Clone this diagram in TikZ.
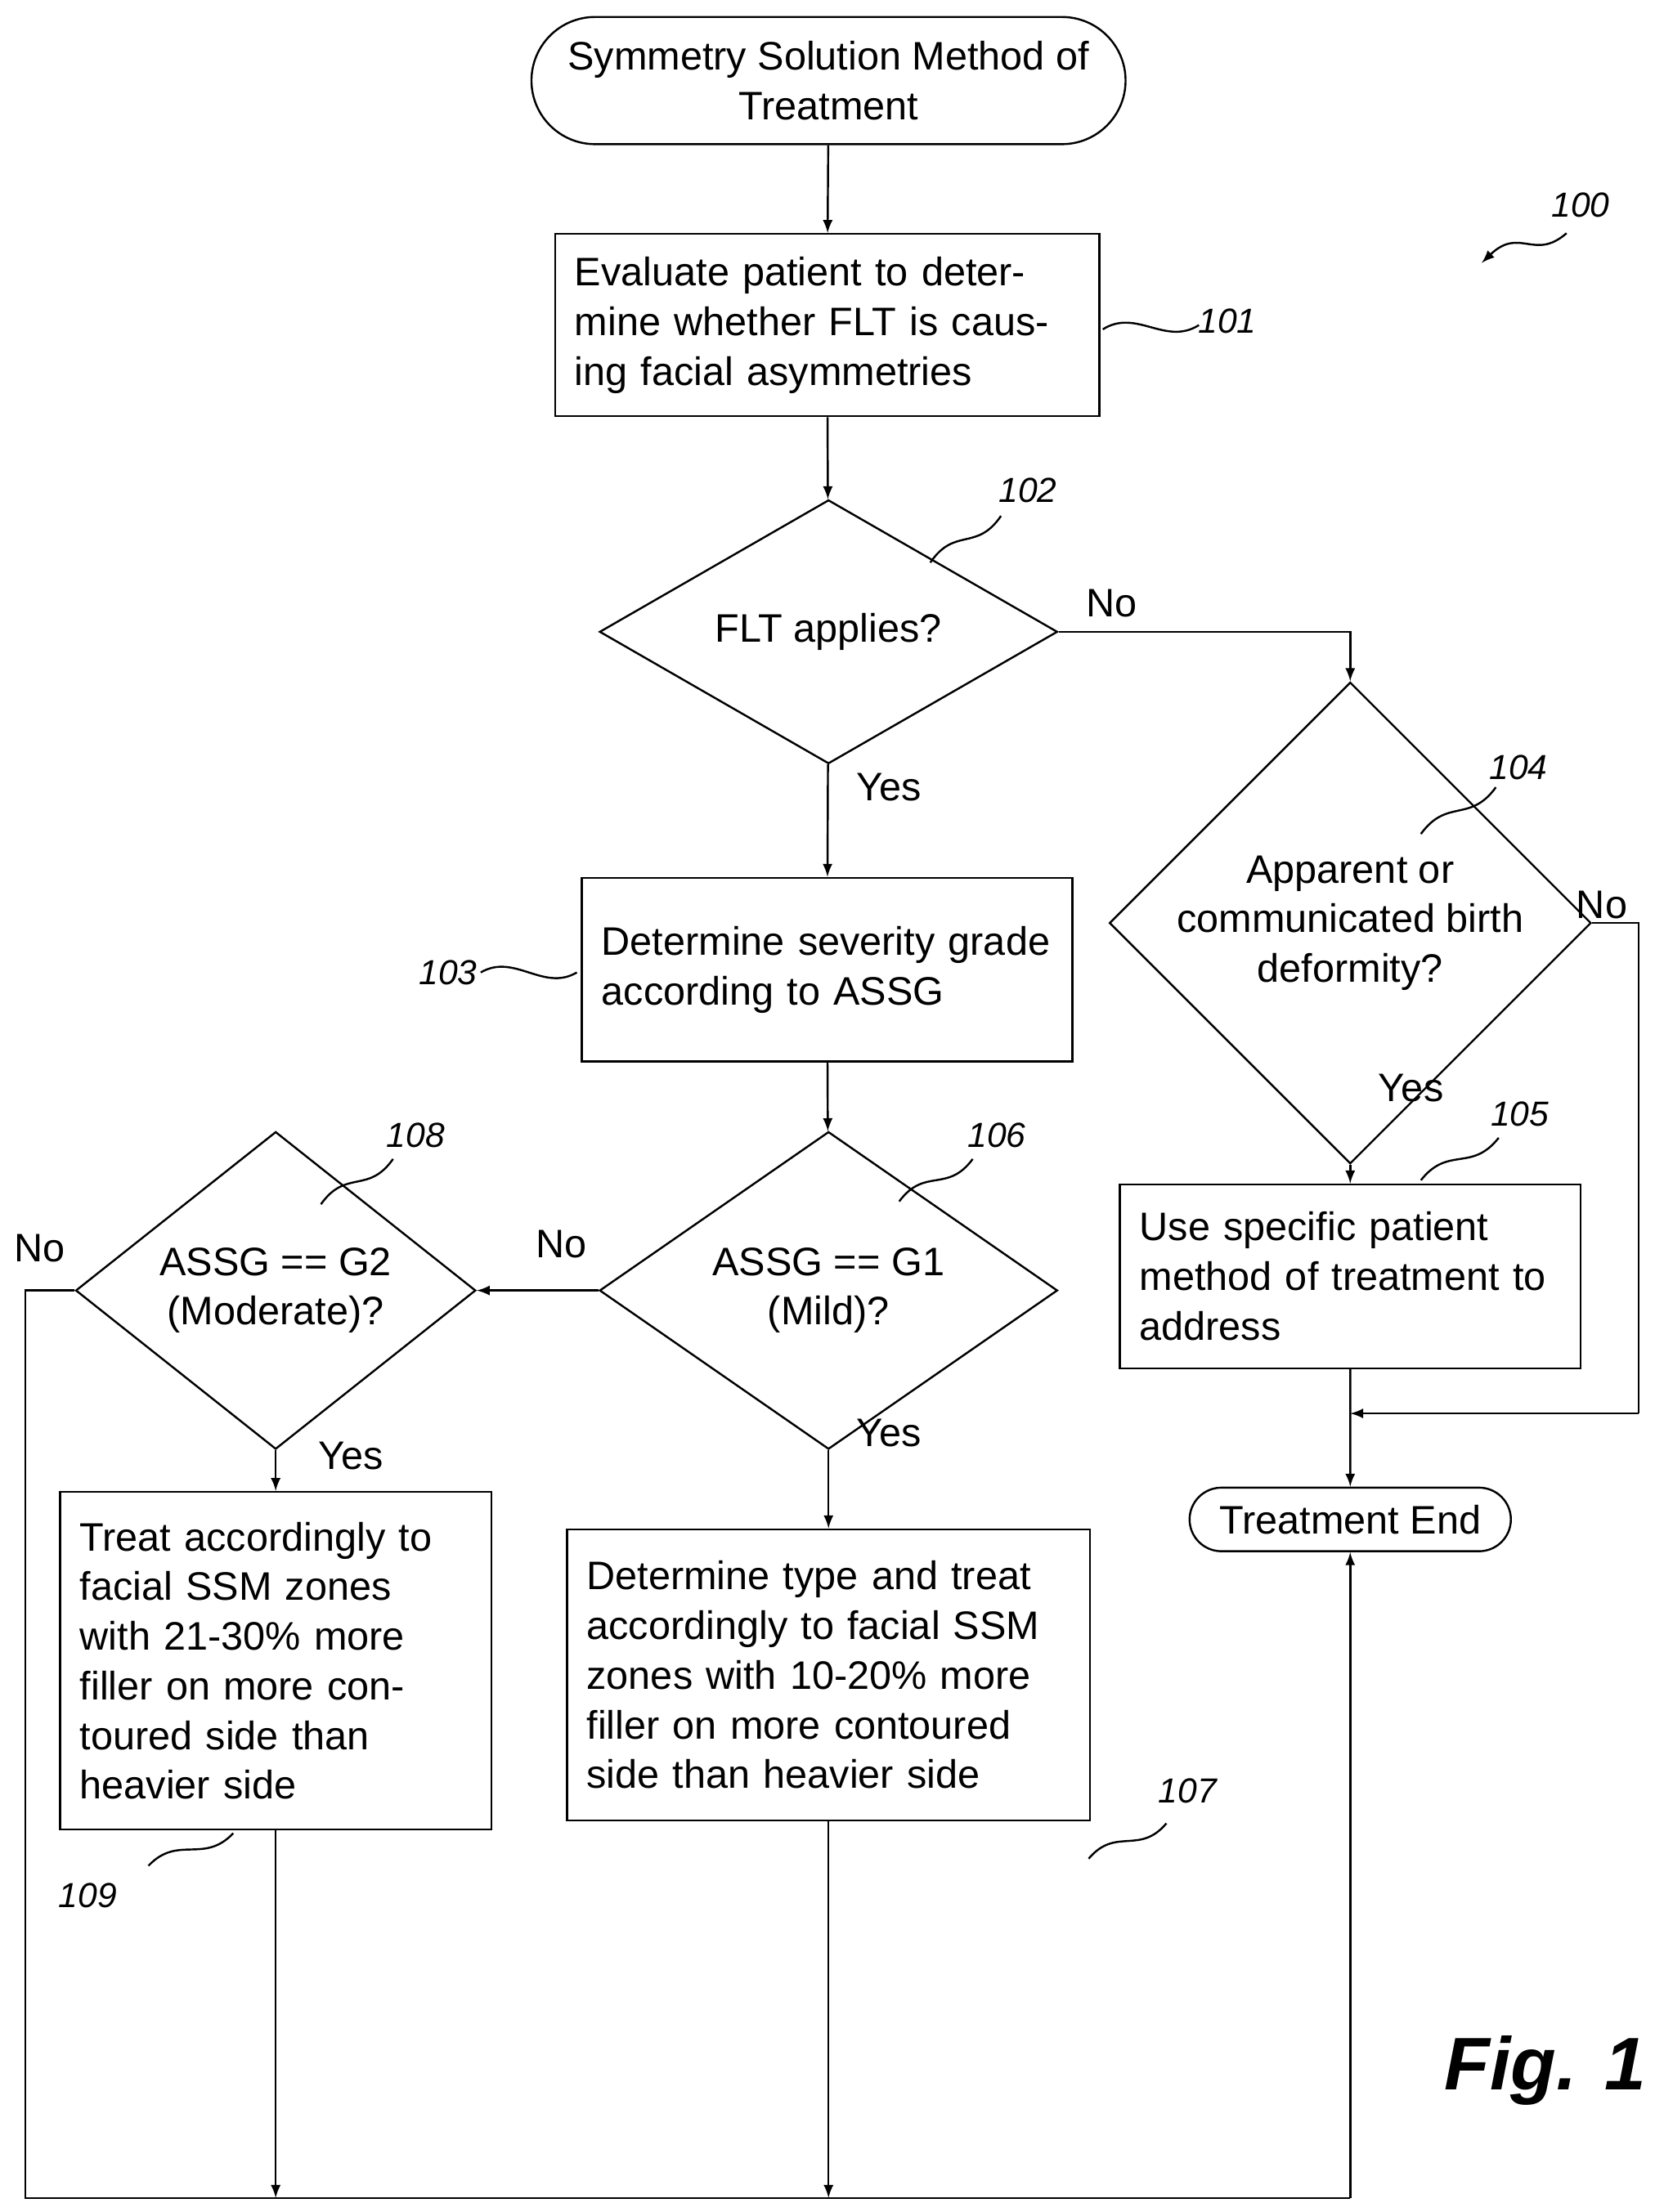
\documentclass[tikz,border=0pt]{standalone}
\usepackage{fontspec}
\setmainfont{Liberation Sans}
\usetikzlibrary{shapes.geometric,shapes.misc,calc}
\tikzset{
  box/.style={draw, thick, align=left, inner sep=0pt, font=\fontsize{16}{20}\selectfont},
  dec/.style={draw, thick, diamond, inner sep=0pt, align=center, font=\fontsize{16}{20}\selectfont},
  term/.style={draw, thick, rounded rectangle, align=center, font=\fontsize{16}{20}\selectfont},
  lbl/.style={font=\fontsize{16}{20}\selectfont},
  refn/.style={font=\fontsize{14}{16}\selectfont\itshape},
  flow/.style={thick, -latex},
}
\newcommand{\squig}[2]{\draw[thick] #1 .. controls ($#1!0.35!#2+(0,-14)$) and ($#1!0.65!#2+(0,14)$) .. #2;}
\begin{document}
\begin{tikzpicture}[x=0.02cm,y=-0.02cm]
\useasboundingbox (0,0) rectangle (1170,1565);
% nodes
\node[term, minimum width=8.64cm, minimum height=1.8cm] (start) at (586,57) {Symmetry Solution Method of\\Treatment};
\node[box, minimum width=7.7cm, minimum height=2.58cm, text width=7.14cm] (eval) at (585,230) {Evaluate patient to determine whether FLT is causing facial asymmetries};
\node[dec, minimum width=6.48cm, minimum height=3.44cm] (flt) at (586,447) {FLT applies?};
\node[box, minimum width=6.94cm, minimum height=2.6cm, text width=6.38cm] (grade) at (585,686) {Determine severity grade according to ASSG};
\node[dec, minimum width=6.48cm, minimum height=3.44cm] (birth) at (955,653) {Apparent or\\communicated birth\\deformity?};
\node[box, minimum width=6.52cm, minimum height=2.6cm, text width=5.96cm] (specific) at (955,903) {Use specific patient method of treatment to address};
\node[term, minimum width=4.78cm, minimum height=0.9cm] (end) at (955,1075) {Treatment End};
\node[dec, minimum width=6.48cm, minimum height=3.44cm] (gone) at (586,913) {ASSG == G1\\(Mild)?};
\node[dec, minimum width=5.66cm, minimum height=3.44cm] (gtwo) at (195,913) {ASSG == G2\\(Moderate)?};
\node[box, minimum width=6.1cm, minimum height=4.78cm, text width=5.54cm] (treattwo) at (195,1175) {Treat accordingly to facial SSM zones with 21-30\% more filler on more contoured side than heavier side};
\node[box, minimum width=7.4cm, minimum height=4.12cm, text width=6.84cm] (treatone) at (586,1185) {Determine type and treat accordingly to facial SSM zones with 10-20\% more filler on more contoured side than heavier side};
\coordinate (nob) at (955,447);
\coordinate (nor) at (1159,653);
\coordinate (nod) at (1159,1000);
\coordinate (join) at (955,1000);
\coordinate (lft) at (18,913);
\coordinate (bl) at (18,1555);
\coordinate (br) at (955,1555);
\coordinate (btwo) at (195,1555);
\coordinate (bone) at (586,1555);
% connectors
\draw[flow] (start) -- (eval);
\draw[flow] (eval) -- (flt);
\draw[flow] (flt) -- (grade);
\draw[flow] (flt.east) -- (nob) -- (birth.north);
\draw[flow] (birth) -- (specific);
\draw[thick] (birth.east) -- (nor) -- (nod);
\draw[flow] (nod) -- (join);
\draw[flow] (specific) -- (end);
\draw[flow] (grade) -- (gone);
\draw[flow] (gone.west) -- (gtwo.east);
\draw[flow] (gone) -- (treatone);
\draw[flow] (gtwo) -- (treattwo);
\draw[thick] (gtwo.west) -- (lft) -- (bl) -- (br);
\draw[flow] (br) -- (end.south);
\draw[flow] (treattwo) -- (btwo);
\draw[flow] (treatone) -- (bone);
% labels
\node[lbl] at (786,427) {No};
\node[lbl] at (629,557) {Yes};
\node[lbl] at (1133,640) {No};
\node[lbl] at (998,770) {Yes};
\node[lbl] at (397,880) {No};
\node[lbl] at (629,1014) {Yes};
\node[lbl] at (28,883) {No};
\node[lbl] at (248,1030) {Yes};
% reference numerals
\node[refn] at (1118,145) {100};
\draw[thick, -latex] (1108,165) .. controls (1085,185) and (1075,160) .. (1048,186);
\node[refn] at (868,227) {101};  \squig{(780,233)}{(848,230)}
\node[refn] at (727,347) {102};  \squig{(658,398)}{(708,365)}
\node[refn] at (317,688) {103};  \squig{(340,688)}{(408,688)}
\node[refn] at (1074,543) {104}; \squig{(1005,590)}{(1058,557)}
\node[refn] at (1075,788) {105}; \squig{(1005,835)}{(1060,805)}
\node[refn] at (705,803) {106};  \squig{(636,850)}{(688,820)}
\node[refn] at (840,1267) {107}; \squig{(770,1315)}{(825,1290)}
\node[refn] at (294,803) {108};  \squig{(227,852)}{(278,820)}
\node[refn] at (62,1341) {109};  \squig{(105,1320)}{(165,1297)}
\node[font=\fontsize{30}{34}\selectfont\bfseries\itshape] at (1093,1465) {Fig. 1};
\end{tikzpicture}
\end{document}
